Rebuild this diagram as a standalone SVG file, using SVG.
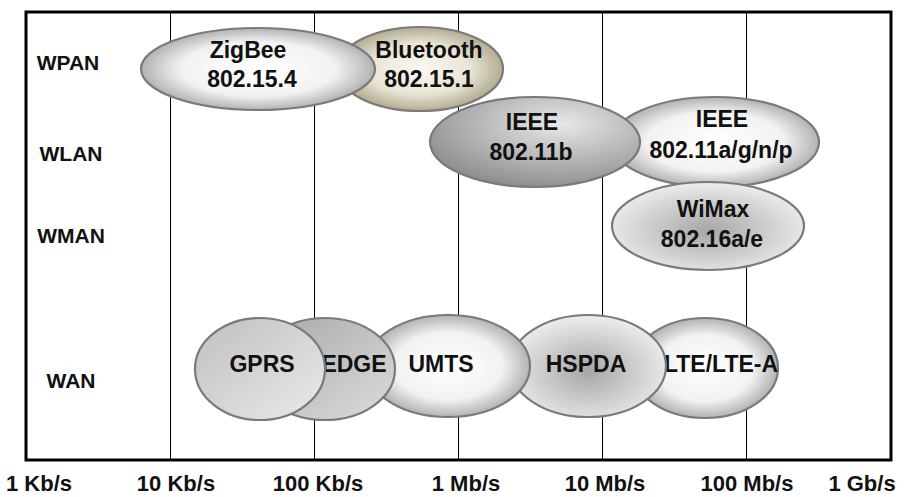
<svg xmlns="http://www.w3.org/2000/svg" width="904" height="497" viewBox="0 0 904 497">
<style>
text{font-family:"Liberation Sans",Arial,sans-serif;font-weight:bold;fill:#111;text-anchor:middle}
.row{font-size:21px}
.axis{font-size:22px}
.lbl{font-size:23px}
.grid{stroke:#000;stroke-width:1}
.ell{stroke:#7a7a7a;stroke-width:2.2}
</style>
<defs>
<radialGradient id="gWhite" cx="50%" cy="50%" r="55%"><stop offset="0" stop-color="#ffffff"/><stop offset="0.6" stop-color="#f2f2f2"/><stop offset="1" stop-color="#a0a0a0"/></radialGradient>
<radialGradient id="gBeige" cx="50%" cy="50%" r="55%"><stop offset="0" stop-color="#faf8f1"/><stop offset="0.55" stop-color="#e9e5d6"/><stop offset="1" stop-color="#a59d80"/></radialGradient>
<radialGradient id="gDark" cx="62%" cy="30%" r="72%"><stop offset="0" stop-color="#e8e8e8"/><stop offset="1" stop-color="#8e8e8e"/></radialGradient>
<radialGradient id="gInv" cx="50%" cy="55%" r="55%"><stop offset="0" stop-color="#a6a6a6"/><stop offset="1" stop-color="#ededed"/></radialGradient>
<linearGradient id="gGprs" x1="0" y1="0" x2="1" y2="1"><stop offset="0" stop-color="#bfbfbf"/><stop offset="1" stop-color="#eaeaea"/></linearGradient>
<linearGradient id="gEdge" x1="0" y1="0" x2="1" y2="1"><stop offset="0" stop-color="#a8a8a8"/><stop offset="1" stop-color="#dcdcdc"/></linearGradient>
</defs>
<rect width="904" height="497" fill="#fff"/>
<g id="grid">
<line class="grid" x1="170.5" y1="12" x2="170.5" y2="460"/>
<line class="grid" x1="314.5" y1="12" x2="314.5" y2="460"/>
<line class="grid" x1="458.5" y1="12" x2="458.5" y2="460"/>
<line class="grid" x1="602.5" y1="12" x2="602.5" y2="460"/>
<line class="grid" x1="746.5" y1="12" x2="746.5" y2="460"/>
<rect x="26" y="12" width="865" height="448" fill="none" stroke="#000" stroke-width="3"/>
</g>
<g id="rows">
<text class="row" x="68" y="70">WPAN</text>
<text class="row" x="71" y="161">WLAN</text>
<text class="row" x="71" y="243">WMAN</text>
<text class="row" x="71" y="388">WAN</text>
</g>
<g id="axis">
<text class="axis" x="39" y="491">1 Kb/s</text>
<text class="axis" x="176" y="491">10 Kb/s</text>
<text class="axis" x="318" y="491">100 Kb/s</text>
<text class="axis" x="466" y="491">1 Mb/s</text>
<text class="axis" x="605" y="491">10 Mb/s</text>
<text class="axis" x="747" y="491">100 Mb/s</text>
<text class="axis" x="862" y="491">1 Gb/s</text>
</g>
<g id="bluetooth"><ellipse class="ell" cx="420" cy="69" rx="83" ry="42" fill="url(#gBeige)"/><text class="lbl" x="429" y="58">Bluetooth</text><text class="lbl" x="429" y="87">802.15.1</text></g>
<g id="zigbee"><ellipse class="ell" cx="258" cy="69" rx="117" ry="41" fill="url(#gWhite)"/><text class="lbl" x="248" y="58">ZigBee</text><text class="lbl" x="252" y="87">802.15.4</text></g>
<g id="ieee80211agnp"><ellipse class="ell" cx="715" cy="142" rx="104" ry="45" fill="url(#gWhite)"/><text class="lbl" x="722" y="127">IEEE</text><text class="lbl" x="721" y="158">802.11a/g/n/p</text></g>
<g id="ieee80211b"><ellipse class="ell" cx="535" cy="142" rx="105" ry="45" fill="url(#gDark)"/><text class="lbl" x="532" y="130">IEEE</text><text class="lbl" x="531" y="160">802.11b</text></g>
<g id="wimax"><ellipse class="ell" cx="708" cy="226" rx="96" ry="44" fill="url(#gInv)"/><text class="lbl" x="713" y="217">WiMax</text><text class="lbl" x="712" y="247">802.16a/e</text></g>
<g id="lte"><ellipse class="ell" cx="705" cy="368" rx="73" ry="50" fill="url(#gWhite)"/><text class="lbl" x="721" y="372">LTE/LTE-A</text></g>
<g id="hspda"><ellipse class="ell" cx="588" cy="366" rx="78" ry="51" fill="url(#gInv)"/><text class="lbl" x="586" y="372">HSPDA</text></g>
<g id="umts"><ellipse class="ell" cx="448" cy="366" rx="82" ry="51" fill="url(#gWhite)"/><text class="lbl" x="441" y="372">UMTS</text></g>
<g id="edge"><ellipse class="ell" cx="325" cy="369" rx="70" ry="51" fill="url(#gEdge)"/><text class="lbl" x="354" y="372">EDGE</text></g>
<g id="gprs"><ellipse class="ell" cx="260" cy="369" rx="65" ry="51" fill="url(#gGprs)"/><text class="lbl" x="262" y="372">GPRS</text></g>
</svg>
